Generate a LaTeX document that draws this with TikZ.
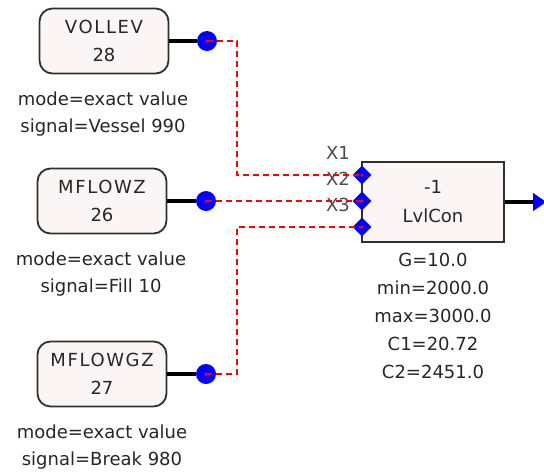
\documentclass[tikz,border=0pt]{standalone}
\usepackage{fontspec}
\setmainfont{DejaVu Sans}
\newfontfamily\titlefont[LetterSpace=9]{DejaVu Sans}
\usetikzlibrary{shapes.geometric}
\definecolor{txt}{HTML}{262626}
\definecolor{boxfill}{HTML}{FCF5F5}
\definecolor{edge}{HTML}{303030}
\definecolor{portlbl}{HTML}{4A4A4A}
\begin{document}
\begin{tikzpicture}[x=1pt,y=-1pt,
  every node/.style={text=txt, font=\fontsize{18}{28}\selectfont},
  srcbox/.style={draw=edge, line width=1.8pt, fill=boxfill, rounded corners=13pt,
    minimum width=129pt, minimum height=65pt, inner sep=0pt, align=center},
  ctlbox/.style={draw=edge, line width=1.8pt, fill=boxfill,
    minimum width=142pt, minimum height=80pt, inner sep=0pt, align=center,
    font=\fontsize{18}{29}\selectfont},
  info/.style={align=center, inner sep=0pt, font=\fontsize{18}{26.5}\selectfont},
  params/.style={align=center, inner sep=0pt, font=\fontsize{18}{28}\selectfont},
  outport/.style={circle, fill=blue, minimum size=20pt, inner sep=0pt},
  inport/.style={diamond, fill=blue, minimum width=19pt, minimum height=19pt, inner sep=0pt},
  plbl/.style={text=portlbl, inner sep=0pt},
  wire/.style={draw=black, line width=3.6pt},
  sig/.style={draw=red, line width=1.6pt, dash pattern=on 6pt off 4pt},
  dot/.style={circle, fill=red, minimum size=3.5pt, inner sep=0pt}]
\useasboundingbox (0,0) rectangle (544,472);

% source blocks
\node[srcbox] (vollev) at (104,41) {{\titlefont VOLLEV}\\28};
\node[info] (vollevinfo) at (103,114) {mode=exact value\\signal=Vessel 990};
\node[srcbox] (mflowz) at (102,201) {{\titlefont MFLOWZ}\\26};
\node[info] (mflowzinfo) at (101,274) {mode=exact value\\signal=Fill 10};
\node[srcbox] (mflowgz) at (102,374) {{\titlefont MFLOWGZ}\\27};
\node[info] (mflowgzinfo) at (102,447) {mode=exact value\\signal=Break 980};

% output ports of sources
\node[outport] (c1) at (207,41) {};
\node[outport] (c2) at (206,201) {};
\node[outport] (c3) at (206,374) {};

\draw[wire] (vollev.east) -- (c1.west);
\draw[wire] (mflowz.east) -- (c2.west);
\draw[wire] (mflowgz.east) -- (c3.west);

% controller
\node[ctlbox] (lvl) at (433,202) {-1\\LvlCon};
\node[params] (lvlparams) at (433,316) {G=10.0\\min=2000.0\\max=3000.0\\C1=20.72\\C2=2451.0};

\node[inport] (p1) at (362,175) {};
\node[inport] (p2) at (362,201) {};
\node[inport] (p3) at (362,227) {};

\node[plbl] (x1) at (338,153) {X1};
\node[plbl] (x2) at (338,179) {X2};
\node[plbl] (x3) at (338,205) {X3};

% output arrow
\node[isosceles triangle, isosceles triangle stretches, fill=blue,
  minimum height=13pt, minimum width=18pt, inner sep=0pt, anchor=west] (outarr) at (533,202) {};
\draw[wire] (lvl.east) -- (outarr.west);

% signal connections
\coordinate (j1) at (237,175);
\coordinate (j3) at (237,227);
\draw[sig] (c1.center) -| (j1) -- (p1.center);
\draw[sig] (c2.center) -- (p2.center);
\draw[sig] (c3.center) -| (j3) -- (p3.center);

\foreach \n in {c1,c2,c3,p1,p2,p3} \node[dot] at (\n.center) {};
\end{tikzpicture}
\end{document}
